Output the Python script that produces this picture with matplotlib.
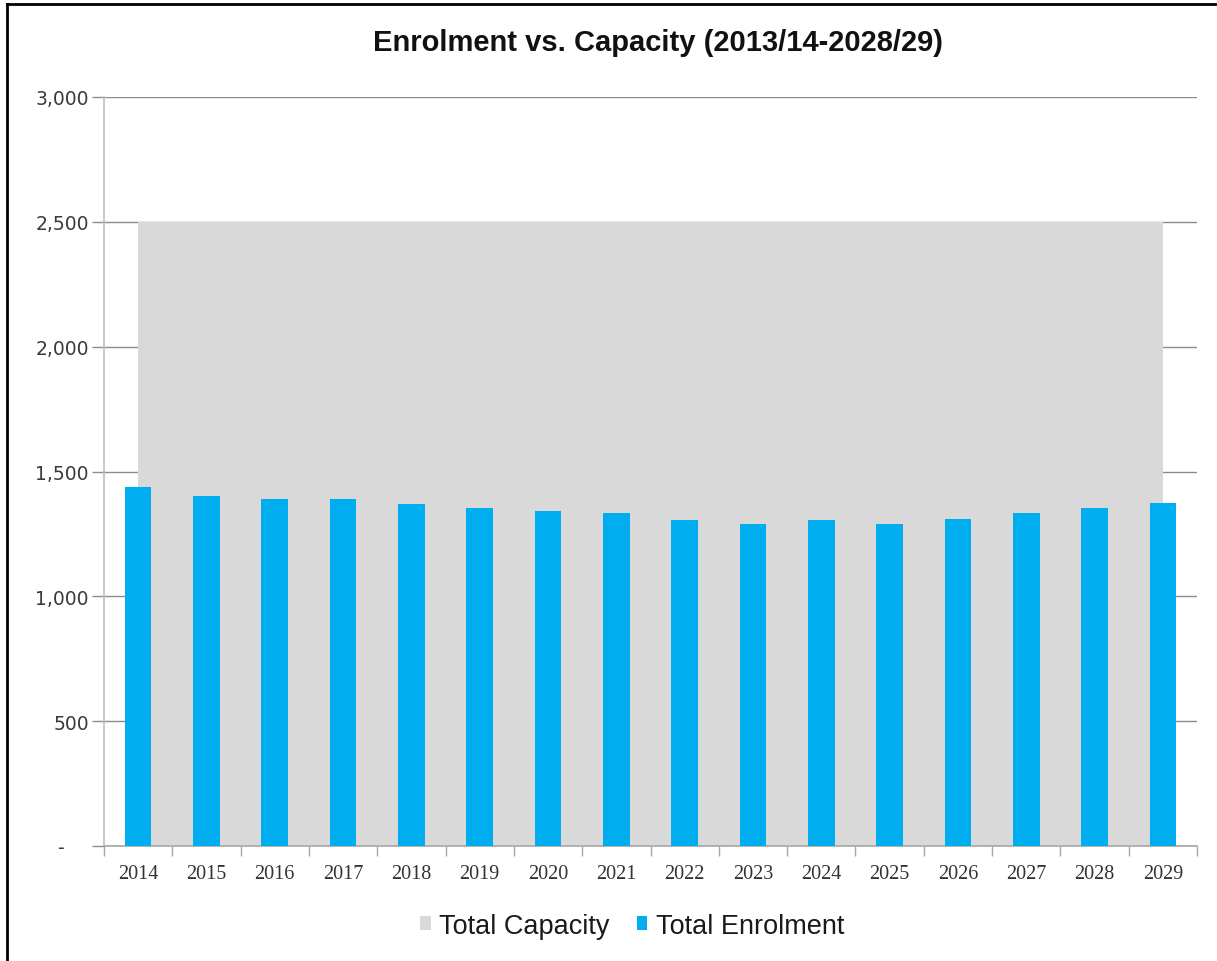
import matplotlib
matplotlib.use("Agg")
import matplotlib.pyplot as plt
from matplotlib.patches import Patch
from matplotlib.lines import Line2D
import numpy as np

# ---- data ----
years = ["2014", "2015", "2016", "2017", "2018", "2019", "2020", "2021",
         "2022", "2023", "2024", "2025", "2026", "2027", "2028", "2029"]
total_capacity = [2500, 2500, 2500, 2500, 2500, 2500, 2500, 2500,
                  2500, 2500, 2500, 2500, 2500, 2500, 2500, 2500]
total_enrolment = [1436, 1400, 1391, 1388, 1368, 1355, 1341, 1335,
                   1305, 1290, 1305, 1290, 1310, 1335, 1355, 1372]
y_ticks = [0, 500, 1000, 1500, 2000, 2500, 3000]
y_tick_labels = ["-    ", "500", "1,000", "1,500", "2,000", "2,500", "3,000"]
title = "Enrolment vs. Capacity (2013/14-2028/29)"
series_names = ["Total Capacity", "Total Enrolment"]

W, H = 1217, 962
fig = plt.figure(figsize=(W / 100, H / 100), dpi=100)
fig.patch.set_facecolor("white")

ax = fig.add_axes([104 / W, 1 - 847 / H, (1197 - 104) / W, (847 - 98) / H])
x = np.arange(len(years))

cap_color = "#d9d9d9"
enr_color = "#00aeef"

ax.fill_between(x, total_capacity, 0, color=cap_color, linewidth=0, zorder=2)
ax.bar(x, total_enrolment, width=0.39, color=enr_color, zorder=3)

ax.set_xlim(-0.5, len(years) - 0.5)
ax.set_ylim(0, 3000)

# grid
ax.set_yticks(y_ticks)
ax.set_yticklabels(y_tick_labels, fontfamily="DejaVu Sans", fontsize=13.5, color="#3a3a3a")
ax.yaxis.grid(True, color="#8c8c8c", linewidth=1.0, zorder=1)
ax.set_axisbelow(True)
ax.tick_params(axis="y", direction="out", length=9, width=1, color="#8c8c8c", pad=2)

# x axis: ticks at boundaries, labels at centers
ax.set_xticks(np.arange(-0.5, len(years), 1.0))
ax.set_xticklabels([])
ax.set_xticks(x, minor=True)
ax.set_xticklabels(years, minor=True, fontfamily="Liberation Serif", fontsize=14.5, color="#333333")
ax.tick_params(axis="x", which="major", direction="out", length=7, width=1, color="#a6a6a6")
ax.tick_params(axis="x", which="minor", length=0, pad=13)

for s in ["top", "right"]:
    ax.spines[s].set_visible(False)
ax.spines["left"].set_color("#bfbfbf")
ax.spines["left"].set_linewidth(1.2)
ax.spines["bottom"].set_color("#a6a6a6")
ax.spines["bottom"].set_linewidth(1.2)
ax.set_facecolor("white")

# title
fig.text(658 / W, 1 - 43 / H, title, ha="center", va="center",
         fontfamily="Liberation Sans", fontweight="bold", fontsize=21, color="#111111")

# legend
handles = [Patch(facecolor=cap_color, edgecolor="none"),
           Patch(facecolor=enr_color, edgecolor="none")]
fig.legend(handles, series_names, loc="center", bbox_to_anchor=(632 / W, 1 - 927 / H),
           ncol=2, frameon=False, handlelength=0.4, handleheight=0.4, handletextpad=0.3,
           columnspacing=1.0, prop={"family": "Liberation Sans", "size": 19.5},
           labelcolor="#1a1a1a")

# frame lines (top and left)
fig.add_artist(Line2D([7 / W, 1], [1 - 5 / H, 1 - 5 / H], transform=fig.transFigure,
                      color="black", linewidth=2))
fig.add_artist(Line2D([7 / W, 7 / W], [0, 1 - 5 / H], transform=fig.transFigure,
                      color="black", linewidth=2))

fig.savefig("out.png", dpi=100, facecolor="white")
